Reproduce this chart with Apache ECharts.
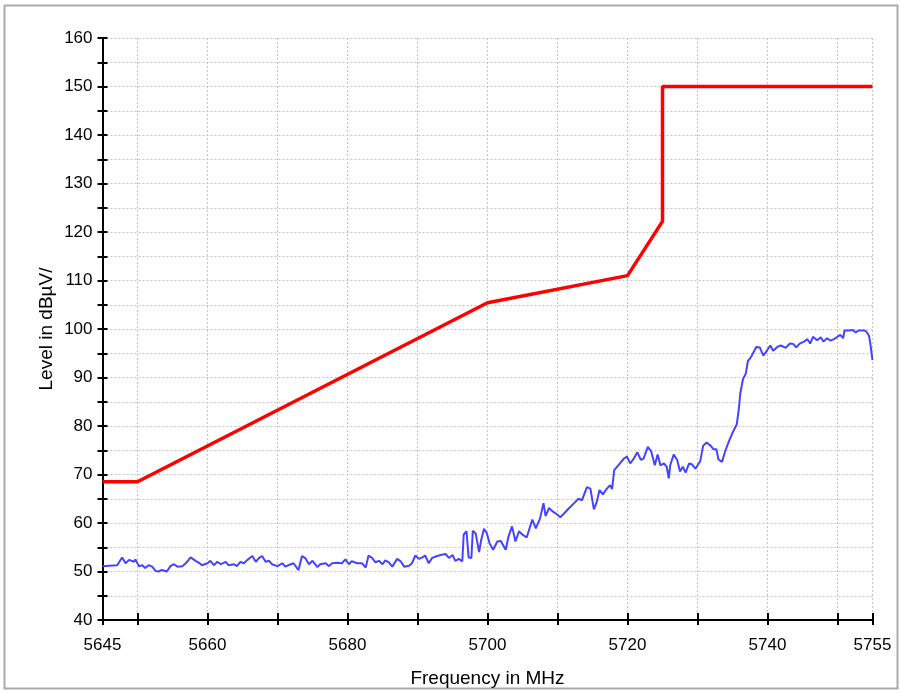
<!DOCTYPE html>
<html>
<head>
<meta charset="utf-8">
<script src="https://cdn.jsdelivr.net/npm/echarts@6/dist/echarts.min.js"></script>
<style>
html,body{margin:0;padding:0;background:#fff;}
#chart{width:901px;height:693px;}
</style>
</head>
<body>
<div id="chart"></div>
<script>
// Measured trace (blue)
const traceFreqs = [
5645.0,5645.2,5646.0,5647.1,5647.8,5648.3,5648.8,5649.5,5649.7,5650.2,
5650.7,5651.1,5651.6,5652.1,5652.6,5653.0,5653.5,5654.2,5654.7,5655.2,
5655.7,5656.4,5656.9,5657.6,5658.3,5658.8,5659.2,5660.0,5660.4,5660.9,
5661.4,5661.9,5662.6,5663.0,5663.8,5664.2,5664.7,5665.2,5665.7,5666.4,
5666.9,5667.3,5667.8,5668.3,5668.8,5669.2,5670.0,5670.7,5671.1,5671.9,
5672.3,5673.0,5673.5,5674.0,5674.5,5675.0,5675.7,5676.1,5676.9,5677.3,
5677.8,5678.5,5679.2,5679.7,5680.2,
5680.6,5681.4,5682.1,5682.6,5683.0,5683.5,5684.0,5684.5,5685.0,5685.4,
5685.9,5686.4,5687.1,5687.6,5688.1,5688.8,5689.2,5689.7,5690.2,5690.7,
5691.1,5691.6,5692.1,5692.6,5693.3,5694.0,5694.5,5695.0,5695.4,5695.9,
5696.4,5696.6,5697.0,5697.3,5697.7,5697.9,5698.3,5698.8,5699.1,5699.5,
5699.9,5700.3,5700.8,5701.4,5701.9,5702.6,5703.0,5703.5,5704.0,5704.5,
5704.9,5705.6,5706.4,5706.9,5707.5,5708.0,5708.3,5708.8,5709.2,5709.9,
5710.4,5710.9,5711.6,5712.3,5713.0,5713.5,5714.2,5714.7,5715.2,5715.6,
5716.0,5716.5,5717.0,5717.5,5717.8,5718.1,5718.8,5719.5,5719.9,5720.4,
5720.9,5721.4,5721.9,5722.3,5722.9,5723.4,5723.9,5724.3,5724.7,5725.2,
5725.6,5725.9,5726.1,5726.6,5727.1,5727.5,5727.9,5728.3,5728.8,5729.2,
5729.7,
5730.4,5730.8,5731.3,5731.9,5732.3,5732.7,5733.0,5733.5,5734.0,5734.5,
5735.0,5735.6,5735.9,5736.1,5736.5,5736.9,5737.2,5737.6,5738.0,5738.4,
5738.9,5739.4,5739.9,5740.4,5740.8,5741.4,5741.9,5742.6,5743.2,5743.7,
5744.1,5744.6,5745.2,5745.7,5746.1,5746.5,5747.1,5747.6,5748.0,5748.5,
5749.0,5749.5,5750.0,5750.4,5750.8,5751.0,5751.6,5752.2,5752.6,5753.0,
5753.8,5754.1,5754.5,5754.7,5754.95,5755.0
];
const traceLevels = [
51.1,51.3,51.2,51.3,52.9,51.7,52.4,52.0,52.5,51.1,
51.3,50.7,51.3,51.0,50.1,50.0,50.3,50.0,51.1,51.5,
51.0,51.1,51.7,52.9,52.2,51.8,51.3,51.7,52.2,51.3,
52.0,51.5,52.0,51.3,51.5,51.1,52.0,51.7,52.4,53.2,
52.0,52.7,53.2,52.0,52.2,51.5,51.1,51.7,51.0,51.5,
51.7,50.3,53.2,52.7,51.5,52.2,50.9,51.5,51.7,51.1,
51.7,51.8,51.7,52.5,51.5,
52.1,51.7,51.7,50.8,53.3,52.8,51.9,52.2,51.5,52.3,
51.9,51.0,52.6,52.1,51.0,51.2,51.7,53.3,52.6,52.9,
53.3,51.7,52.8,53.1,53.4,53.6,52.8,53.4,52.2,52.6,
52.1,57.6,58.3,52.9,52.8,58.4,57.9,54.0,56.5,58.8,
57.9,55.8,54.5,56.2,56.3,54.5,57.2,59.3,56.2,58.3,
57.7,57.0,60.7,58.9,60.9,64.1,61.4,63.1,62.5,61.8,
61.2,61.9,63.0,64.0,65.0,64.7,67.4,67.1,62.8,64.3,
66.8,65.9,67.0,67.8,67.0,70.9,72.1,73.3,73.7,72.3,
73.3,74.6,73.0,73.3,75.7,74.7,71.9,74.1,71.9,72.3,
71.6,69.2,71.9,74.1,73.0,70.6,71.6,70.4,72.3,72.1,
71.2,
72.8,75.9,76.6,75.9,75.2,75.2,73.1,72.6,75.0,76.9,
78.6,80.3,83.4,86.6,89.7,90.8,93.4,94.1,95.2,96.3,
96.2,94.5,95.5,96.6,95.5,96.3,96.6,96.1,97.0,96.9,
96.2,97.0,97.4,97.9,97.0,98.4,97.7,98.3,97.4,98.1,
97.6,97.9,98.4,98.8,98.1,99.7,99.7,99.8,99.3,99.7,
99.7,99.5,98.6,96.9,94.1,93.6
];
// Limit line (red)
const limitFreqs  = [5645, 5650, 5700, 5720, 5725, 5725, 5755];
const limitLevels = [68.5, 68.5, 105.4, 111.0, 122.2, 150, 150];
// Axis ticks / labels
const xTickValues  = [5645,5650,5660,5670,5680,5690,5700,5710,5720,5730,5740,5750,5755];
const xLabelValues = [5645,5660,5680,5700,5720,5740,5755];
const xGridValues  = [5650,5660,5670,5680,5690,5700,5710,5720,5730,5740,5750,5755];
const yMin = 40, yMax = 160, yStep = 5;

const zip = (a, b) => a.map((v, i) => [v, b[i]]);
const FONT = '"Liberation Sans", Arial, sans-serif';
const gridLine = {show: true, lineStyle: {color: '#c4c4c4', width: 1, type: [2, 2]}};

const chart = echarts.init(document.getElementById('chart'), null, {renderer: 'canvas'});
chart.setOption({
  animation: false,
  backgroundColor: '#fff',
  graphic: [{
    type: 'rect', silent: true, z: -10,
    shape: {x: 4.5, y: 5.5, width: 893, height: 683},
    style: {fill: 'none', stroke: '#ababab', lineWidth: 2}
  }],
  grid: {left: 102.5, right: 28.5, top: 38, bottom: 73},
  xAxis: [{
    type: 'value', min: 5645, max: 5755, position: 'bottom',
    name: 'Frequency in MHz', nameLocation: 'middle', nameGap: 49,
    nameTextStyle: {color: '#000', fontSize: 19, fontFamily: FONT},
    axisLine: {show: true, onZero: false, lineStyle: {color: '#000', width: 2}},
    axisTick: {show: true, customValues: xTickValues, length: 5, lineStyle: {color: '#000', width: 2}},
    axisLabel: {customValues: xLabelValues, color: '#000', fontSize: 17, fontFamily: FONT, margin: 17,
      formatter: v => String(v)},
    splitLine: Object.assign({customValues: xGridValues}, gridLine)
  }, {
    type: 'value', min: 5645, max: 5755, position: 'bottom', offset: 0,
    axisLine: {show: false},
    axisTick: {show: true, inside: true, customValues: xTickValues, length: 7, lineStyle: {color: '#000', width: 2}},
    axisLabel: {show: false},
    splitLine: {show: false}
  }],
  yAxis: [{
    type: 'value', min: yMin, max: yMax, interval: yStep, position: 'left',
    name: 'Level in dBµV/', nameLocation: 'middle', nameGap: 46, nameMoveOverlap: false,
    nameTextStyle: {color: '#000', fontSize: 19, fontFamily: FONT},
    axisLine: {show: true, onZero: false, lineStyle: {color: '#000', width: 2}},
    axisTick: {show: true, length: 5, lineStyle: {color: '#000', width: 2}},
    axisLabel: {color: '#000', fontSize: 17, fontFamily: FONT, margin: 10,
      formatter: v => (v % 10 === 0 ? String(v) : '')},
    splitLine: gridLine
  }, {
    type: 'value', min: yMin, max: yMax, interval: yStep, position: 'left', offset: 0,
    axisLine: {show: false},
    axisTick: {show: true, inside: true, length: 5, lineStyle: {color: '#000', width: 2}},
    axisLabel: {show: false},
    splitLine: {show: false}
  }],
  series: [{
    type: 'line', name: 'Limit', xAxisIndex: 0, yAxisIndex: 0,
    data: zip(limitFreqs, limitLevels),
    showSymbol: false, symbol: 'none',
    lineStyle: {color: '#ff0000', width: 3.5}, z: 3
  }, {
    type: 'line', name: 'Trace', xAxisIndex: 0, yAxisIndex: 0,
    data: zip(traceFreqs, traceLevels),
    showSymbol: false, symbol: 'none',
    lineStyle: {color: '#4444ff', width: 2}, z: 2
  }]
});
</script>
</body>
</html>
